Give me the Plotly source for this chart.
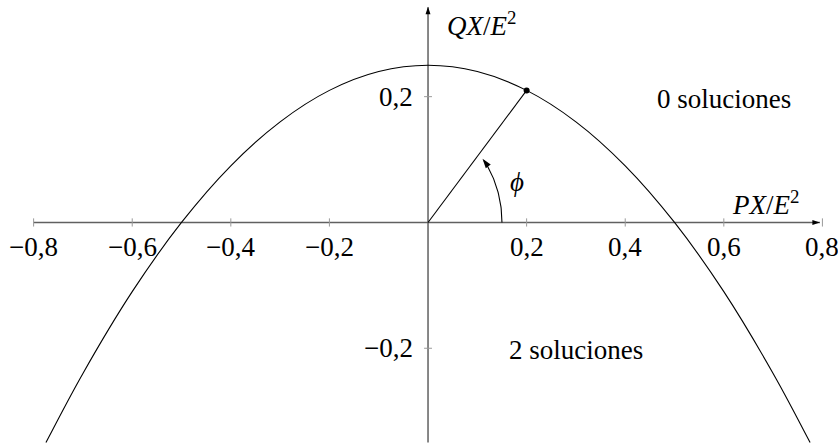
import numpy as np
import plotly.graph_objects as go

# Curva Q = f(P)
p_curve = [-0.775, -0.7, -0.6, -0.5, -0.4, -0.3, -0.2, -0.1, 0.0,
           0.1, 0.2, 0.3, 0.4, 0.5, 0.6, 0.7, 0.775]
q_curve = [-0.35, -0.24, -0.11, 0.0, 0.09, 0.16, 0.21, 0.24, 0.25,
           0.24, 0.21, 0.16, 0.09, 0.0, -0.11, -0.24, -0.35]

# punto marcado
p_point = [0.2]
q_point = [0.21]

x_ticks = [-0.8, -0.6, -0.4, -0.2, 0.2, 0.4, 0.6, 0.8]
x_labels = ["−0,8", "−0,6", "−0,4", "−0,2", "0,2", "0,4", "0,6", "0,8"]
y_ticks = [0.2, -0.2]
y_labels = ["0,2", "−0,2"]

FONT = "Liberation Serif"
AXIS = "#606060"
TICK = "#999999"

fig = go.Figure()

# ejes
fig.add_trace(go.Scatter(x=[-0.8, 0.795], y=[0, 0], mode="lines",
                         line=dict(color=AXIS, width=1.5), hoverinfo="skip"))
fig.add_trace(go.Scatter(x=[0, 0], y=[-0.35, 0.342], mode="lines",
                         line=dict(color=AXIS, width=1.5), hoverinfo="skip"))

# marcas de los ejes
tx, ty = [], []
for t in x_ticks:
    tx += [t, t, None]
    ty += [-0.0065, 0.0065, None]
for t in y_ticks:
    tx += [-0.008, 0.008, None]
    ty += [t, t, None]
fig.add_trace(go.Scatter(x=tx, y=ty, mode="lines",
                         line=dict(color=TICK, width=1), hoverinfo="skip"))

# puntas de flecha de los ejes
fig.add_trace(go.Scatter(x=[0.795, 0], y=[0, 0.343], mode="markers",
                         marker=dict(symbol="arrow", size=8, angle=[90, 0],
                                     color="black", line=dict(width=0)),
                         hoverinfo="skip"))

# parábola
fig.add_trace(go.Scatter(x=p_curve, y=q_curve, mode="lines", line_shape="spline",
                         line=dict(color="black", width=1.1), hoverinfo="skip"))

# segmento al punto
fig.add_trace(go.Scatter(x=[0, p_point[0]], y=[0, q_point[0]], mode="lines",
                         line=dict(color="black", width=1.1), hoverinfo="skip"))
fig.add_trace(go.Scatter(x=p_point, y=q_point, mode="markers",
                         marker=dict(color="black", size=6), hoverinfo="skip"))

# arco del ángulo phi
th = np.radians(np.linspace(0, 41, 40))
fig.add_trace(go.Scatter(x=0.15 * np.cos(th), y=0.15 * np.sin(th), mode="lines",
                         line=dict(color="black", width=1.1), hoverinfo="skip"))
th_end = np.radians(42.5)
fig.add_trace(go.Scatter(x=[0.15 * np.cos(th_end)], y=[0.15 * np.sin(th_end)],
                         mode="markers",
                         marker=dict(symbol="arrow", size=10, angle=-37,
                                     color="black", line=dict(width=0)),
                         hoverinfo="skip"))

font = dict(family=FONT, size=27, color="black")

for t, lab in zip(x_ticks, x_labels):
    fig.add_annotation(x=t, y=0, text=lab, showarrow=False, yshift=-25, font=font)
for t, lab in zip(y_ticks, y_labels):
    fig.add_annotation(x=0, y=t, text=lab, showarrow=False, xanchor="right",
                       xshift=-13, font=font)

fig.add_annotation(x=0.108, y=0.316, text="<i>QX</i>/<i>E</i><sup>2</sup>",
                   showarrow=False, font=font)
fig.add_annotation(x=0.684, y=0.031, text="<i>PX</i>/<i>E</i><sup>2</sup>",
                   showarrow=False, font=font)
fig.add_annotation(x=0.18, y=0.064, text="<i>ϕ</i>", showarrow=False, font=font)
fig.add_annotation(x=0.6, y=0.196, text="0 soluciones", showarrow=False, font=font)
fig.add_annotation(x=0.3, y=-0.203, text="2 soluciones", showarrow=False, font=font)

fig.update_layout(
    width=838, height=447,
    margin=dict(l=0, r=0, t=0, b=0),
    paper_bgcolor="white", plot_bgcolor="white",
    showlegend=False,
    xaxis=dict(range=[-0.8682, 0.8316], visible=False, fixedrange=True),
    yaxis=dict(range=[-0.357, 0.3537], visible=False, fixedrange=True),
)

fig.write_html("out.html", config={"displayModeBar": False},
               post_script="document.body.style.margin='0';")
